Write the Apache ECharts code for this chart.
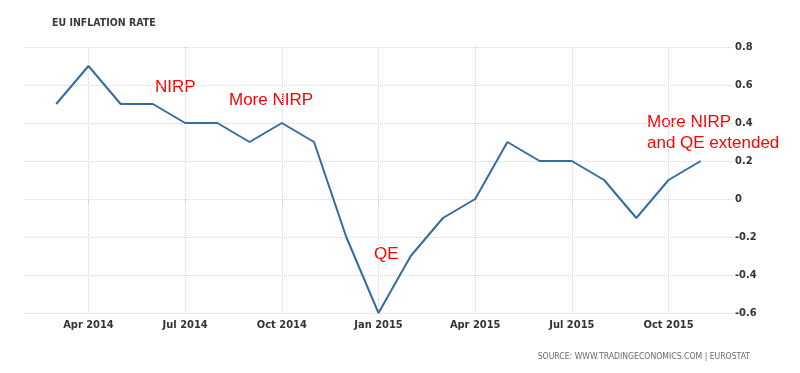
<!DOCTYPE html>
<html><head><meta charset="utf-8">
<script src="https://cdn.jsdelivr.net/npm/echarts@6/dist/echarts.min.js"></script>
<style>html,body{margin:0;padding:0;background:#fff}#c{width:800px;height:373px}</style>
</head><body><div id="c"></div>
<script>
const months = ['Feb 2014','Mar 2014','Apr 2014','May 2014','Jun 2014','Jul 2014','Aug 2014','Sep 2014','Oct 2014','Nov 2014','Dec 2014',
  'Jan 2015','Feb 2015','Mar 2015','Apr 2015','May 2015','Jun 2015','Jul 2015','Aug 2015','Sep 2015','Oct 2015','Nov 2015','Dec 2015'];
const inflation = [null,0.5,0.7,0.5,0.5,0.4,0.4,0.3,0.4,0.3,-0.2,-0.6,-0.3,-0.1,0.0,0.3,0.2,0.2,0.1,-0.1,0.1,0.2,null];
const tickMonths = ['Apr 2014','Jul 2014','Oct 2014','Jan 2015','Apr 2015','Jul 2015','Oct 2015'];
const yTicks = [-0.6,-0.4,-0.2,0,0.2,0.4,0.6,0.8];

const chart = echarts.init(document.getElementById('c'), null, {renderer:'canvas'});
const isTick = (i) => tickMonths.indexOf(months[i]) >= 0;
const annFont = 'Liberation Sans, Arial, sans-serif';
const lblFont = 'DejaVu Sans Condensed, sans-serif';
chart.setOption({
  animation:false,
  grid:{left:24,right:67,top:47,bottom:60},
  title:{text:'EU INFLATION RATE',left:47,top:13,textStyle:{fontSize:10.5,fontWeight:'bold',color:'#3a3a3a',fontFamily:lblFont}},
  graphic:[
    {type:'text',right:50,top:352,style:{text:'SOURCE: WWW.TRADINGECONOMICS.COM | EUROSTAT',fontSize:8.6,fill:'#6a6a6a',fontFamily:lblFont}},
    {type:'text',left:155,top:79,style:{text:'NIRP',fontSize:17,fill:'#ff0000',fontFamily:annFont}},
    {type:'text',left:229,top:92,style:{text:'More NIRP',fontSize:17,fill:'#ff0000',fontFamily:annFont}},
    {type:'text',left:374,top:246,style:{text:'QE',fontSize:17,fill:'#ff0000',fontFamily:annFont}},
    {type:'text',left:647,top:112,style:{text:'More NIRP\nand QE extended',fontSize:17,lineHeight:21,fill:'#ff0000',fontFamily:annFont}}
  ],
  xAxis:{type:'category',data:months,boundaryGap:false,
    axisLine:{show:false},
    axisTick:{show:true,interval:(i)=>isTick(i),length:4,lineStyle:{color:'#cfd3da'}},
    axisLabel:{interval:(i)=>isTick(i),margin:7,fontSize:11,fontWeight:'bold',color:'#333',fontFamily:lblFont},
    splitLine:{show:true,interval:(i)=>isTick(i),lineStyle:{color:'#d5d8de',type:'dotted',width:1}}
  },
  yAxis:{type:'value',position:'right',min:yTicks[0],max:yTicks[yTicks.length-1],interval:0.2,
    axisLine:{show:false},axisTick:{show:false},
    axisLabel:{margin:2,fontSize:11,fontWeight:'bold',color:'#333',fontFamily:lblFont,
      formatter:(v)=>{const r=Math.round(v*10)/10;return r===0?'0':String(r);}},
    splitLine:{lineStyle:{color:'#d5d8de',type:'dotted',width:1}}
  },
  series:[{type:'line',data:inflation,symbol:'none',connectNulls:false,lineStyle:{color:'#356ba3',width:2}}]
});
</script></body></html>
